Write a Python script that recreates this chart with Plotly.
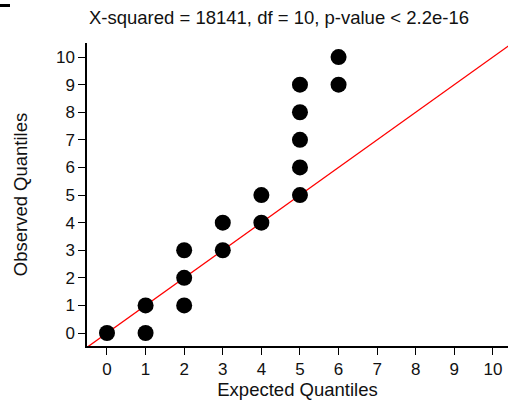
import plotly.graph_objects as go

expected = [0, 1, 1, 2, 2, 2, 3, 3, 4, 4, 5, 5, 5, 5, 5, 6, 6]
observed = [0, 0, 1, 1, 2, 3, 3, 4, 4, 5, 5, 6, 7, 8, 9, 9, 10]
ref_line = [-1, 11]
ticks = list(range(0, 11))
title = "X-squared = 18141, df = 10, p-value < 2.2e-16"

font = "Liberation Sans, Arial, sans-serif"

fig = go.Figure()
fig.add_trace(go.Scatter(x=ref_line, y=ref_line, mode="lines",
                         line=dict(color="#ff0000", width=1.3), hoverinfo="skip"))
fig.add_trace(go.Scatter(x=expected, y=observed, mode="markers",
                         marker=dict(color="black", size=16, line=dict(width=0))))

fig.update_layout(
    width=508, height=402,
    margin=dict(l=87, r=0, t=43, b=56),
    paper_bgcolor="white", plot_bgcolor="white",
    showlegend=False,
    font=dict(family=font, size=17, color="#111"),
    title=dict(text=title, x=279/508, xanchor="center", y=1 - 17.5/402, yanchor="middle",
               font=dict(family=font, size=18.5, color="#111")),
    shapes=[dict(type="rect", xref="paper", yref="paper",
                 x0=-87/421, x1=-77/421, y0=1 + 36/303, y1=1 + 39/303,
                 fillcolor="black", line=dict(width=0))],
)
fig.update_xaxes(range=[-0.518, 10.39], tickvals=ticks, showgrid=False, zeroline=False,
                 showline=True, linecolor="black", linewidth=1.5,
                 ticks="outside", ticklen=7, tickwidth=1.2, tickcolor="black",
                 title=dict(text="Expected Quantiles", standoff=5,
                            font=dict(family=font, size=18.5)))
fig.update_yaxes(range=[-0.47, 10.51], tickvals=ticks, showgrid=False, zeroline=False,
                 showline=True, linecolor="black", linewidth=1.5,
                 ticks="outside", ticklen=7, tickwidth=1.2, tickcolor="black",
                 title=dict(text="Observed Quantiles", standoff=23,
                            font=dict(family=font, size=18.5)))

fig.write_html("out.html")
